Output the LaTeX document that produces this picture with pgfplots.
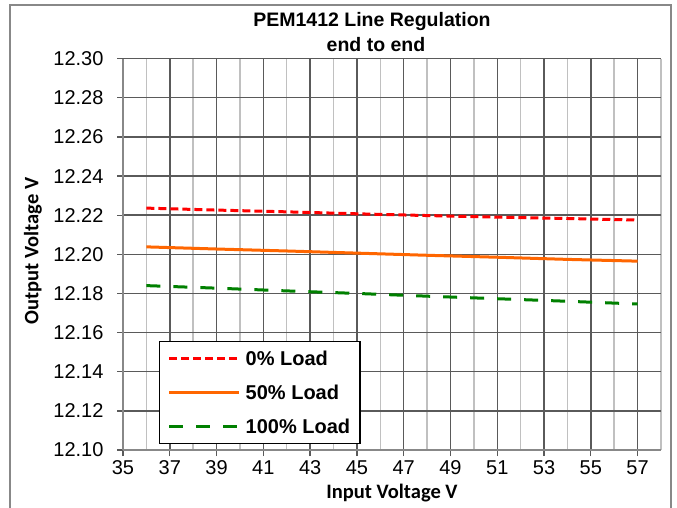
\documentclass[border=0pt]{standalone}
\usepackage{pgfplots}
\pgfplotsset{compat=1.18}
\usepackage{fontspec}
\setmainfont{Liberation Sans}
\newfontfamily\calibri{Carlito}
\definecolor{gridmaj}{HTML}{5A5A5A}
\definecolor{gridmin}{HTML}{C0C0C0}
\definecolor{axisgray}{HTML}{888888}
\definecolor{loadred}{HTML}{FF0000}
\definecolor{loadorange}{HTML}{FF6600}
\definecolor{loadgreen}{HTML}{008000}

\begin{document}
\begin{tikzpicture}[x=1pt,y=1pt]
\useasboundingbox (0,0) rectangle (677,507);
\begin{scope}
  \clip (0,0) rectangle (677,507);
  \draw[axisgray, line width=1.5pt] (10,-10) -- (10,502) -- (671,502) -- (671,-10);
\end{scope}
\node[font=\fontsize{19.5}{21}\selectfont\bfseries] at (372,485) {PEM1412 Line Regulation};
\node[font=\fontsize{19.5}{21}\selectfont\bfseries] at (376,462) {end to end};
\node[font=\fontsize{20.5}{22}\selectfont\calibri\bfseries] at (392,14) {Input Voltage V};
\node[font=\fontsize{20.5}{22}\selectfont\calibri\bfseries, rotate=90] at (33,256) {Output Voltage V};

\begin{axis}[
  at={(123pt,57pt)}, anchor=south west,
  scale only axis, width=538pt, height=391.4pt,
  xmin=35, xmax=58, ymin=12.10, ymax=12.30,
  axis x line*=bottom, axis y line*=left,
  axis line style={axisgray, line width=1.5pt},
  xtick={35,37,...,57}, minor xtick={36,38,...,58},
  ytick={12.10,12.12,12.14,12.16,12.18,12.20,12.22,12.24,12.26,12.28,12.30},
  xmajorgrids, xminorgrids, ymajorgrids,
  major grid style={gridmaj, line width=1.5pt},
  minor grid style={gridmin, line width=1.5pt},
  tick align=outside, major tick length=6pt, minor tick length=0pt,
  tick style={gridmaj, line width=1.3pt},
  ticklabel style={font=\fontsize{20}{22}\selectfont},
  /pgf/number format/assume math mode=true,
  yticklabel style={xshift=-10pt, /pgf/number format/.cd, fixed, fixed zerofill, precision=2},
  xticklabel style={yshift=-1pt},
  legend style={at={(0.0669,0.2785)}, anchor=north west, draw=black, line width=1.5pt,
    fill=white, font=\fontsize{20}{22}\selectfont\bfseries,
    inner xsep=8pt, inner ysep=7pt, row sep=14pt, column sep=3pt},
  legend cell align=left,
  legend image code/.code={\draw[#1] (0pt,0pt) -- (70pt,0pt);},
]
\addplot[loadred, line width=3pt, dash pattern=on 8pt off 4pt] coordinates
  {(36,12.2236)(39,12.2226)(42,12.2217)(45,12.2207)(48,12.2198)(51,12.2190)(54,12.2183)(57,12.2175)};
\addplot[loadorange, line width=3pt] coordinates
  {(36,12.2038)(39,12.2027)(42,12.2017)(45,12.2006)(48,12.1995)(51,12.1985)(54,12.1974)(57,12.1965)};
\addplot[loadgreen, line width=3pt, dash pattern=on 14pt off 13pt] coordinates
  {(36,12.1840)(39,12.1827)(42,12.1813)(45,12.1800)(48,12.1786)(51,12.1773)(54,12.1760)(57,12.1746)};
\legend{0\% Load, 50\% Load, 100\% Load}
\end{axis}
\end{tikzpicture}
\end{document}
